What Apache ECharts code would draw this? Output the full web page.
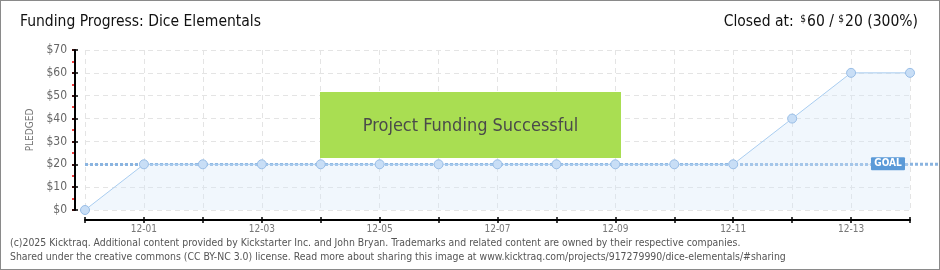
<!DOCTYPE html>
<html><head><meta charset="utf-8">
<script src="https://cdn.jsdelivr.net/npm/echarts@6/dist/echarts.min.js"></script>
<style>
html,body{margin:0;padding:0;background:#fff;}
#wrap{position:absolute;left:0;top:0;width:938px;height:268px;border:1px solid #8a8a8a;}
#c{position:absolute;left:0;top:0;width:940px;height:270px;}
</style></head>
<body><div id="wrap"></div><div id="c"></div>
<script>
const categories = ['11-30','12-01','12-02','12-03','12-04','12-05','12-06','12-07','12-08','12-09','12-10','12-11','12-12','12-13','12-14'];
const pledged = [0,20,20,20,20,20,20,20,20,20,20,20,40,60,60];
const goal = 20;
const yTicks = {min:0, max:70, interval:10};
const titleText = 'Funding Progress: Dice Elementals';
const footer1 = '(c)2025 Kicktraq. Additional content provided by Kickstarter Inc. and John Bryan. Trademarks and related content are owned by their respective companies.';
const footer2 = 'Shared under the creative commons (CC BY-NC 3.0) license. Read more about sharing this image at www.kicktraq.com/projects/917279990/dice-elementals/#sharing';

const FONT = "'Liberation Sans Narrow','DejaVu Sans Condensed',sans-serif";
const chart = echarts.init(document.getElementById('c'), null, {renderer:'canvas'});
const extraY = (interval, color, inside, z) => ({
  type:'value', min:yTicks.min, max:yTicks.max, interval:interval, offset:10, position:'left', z:z,
  axisLine:{show:false}, axisLabel:{show:false}, splitLine:{show:false},
  axisTick:{show:true, inside:inside, length:3, lineStyle:{color:color, width:1.5}}
});
const option = {
  animation:false,
  grid:{left:85, right:30, top:50, bottom:60, containLabel:false},
  xAxis:[{
    type:'category', data:categories, boundaryGap:false, offset:10, position:'bottom',
    axisLine:{onZero:false, lineStyle:{color:'#000', width:2}},
    axisTick:{show:true, interval:0, length:3, inside:false, lineStyle:{color:'#000', width:1.5}},
    axisLabel:{interval:(i)=> i%2===1, color:'#777', fontFamily:FONT, fontSize:10, margin:4},
    splitLine:{show:true, interval:0, lineStyle:{color:'#e4e4e4', type:[5,4]}}
  },{
    type:'category', data:categories, boundaryGap:false, offset:10, position:'bottom',
    axisLine:{show:false, onZero:false}, axisLabel:{show:false}, splitLine:{show:false},
    axisTick:{show:true, interval:0, length:3, inside:true, lineStyle:{color:'#000', width:1.5}}
  }],
  yAxis:[{
    type:'value', min:yTicks.min, max:yTicks.max, interval:yTicks.interval, offset:10, position:'left', z:3,
    name:'PLEDGED', nameLocation:'middle', nameGap:33, nameRotate:90,
    nameTextStyle:{color:'#777', fontFamily:FONT, fontSize:10},
    axisLine:{show:true, lineStyle:{color:'#000', width:2}},
    axisTick:{show:true, length:3, lineStyle:{color:'#000', width:1.5}},
    axisLabel:{color:'#666', fontFamily:FONT, fontSize:12, margin:8, formatter:v=>'$'+v},
    splitLine:{show:true, lineStyle:{color:'#e4e4e4', type:[5,4]}}
  }, extraY(5,'#e00',false,1), extraY(10,'#000',true,3)],
  series:[{
    type:'line', data:pledged, symbol:'circle', symbolSize:9, z:5,
    lineStyle:{color:'#a9cdf0', width:1},
    itemStyle:{color:'#c8def6', borderColor:'#98bde6', borderWidth:1},
    areaStyle:{color:'rgba(214,232,250,0.5)'},
    markLine:{silent:true, symbol:'none', z:3,
      lineStyle:{color:'#8ab4e0', width:3, type:[3,2]},
      label:{show:false},
      data:[{yAxis:goal}]}
  }]
};
chart.setOption(option);

const p0 = chart.convertToPixel({gridIndex:0}, [14, goal]);
chart.setOption({graphic:[
  {id:'title', type:'text', left:20, top:14, style:{text:titleText, font:"15.5px "+FONT, fill:'#111'}},
  {id:'closed', type:'text', right:22, top:14, style:{
    text:'{a|Closed at:}  {s|$}{a|60 / }{s|$}{a|20 (300%)}',
    rich:{a:{font:"15.5px "+FONT, fill:'#111'}, s:{font:"10px "+FONT, fill:'#111', verticalAlign:'top', padding:[0,1,6,0]}}
  }},
  {id:'f1', type:'text', left:10, top:238, style:{text:footer1, font:"10.4px "+FONT, fill:'#555'}},
  {id:'f2', type:'text', left:10, top:252, style:{text:footer2, font:"10.4px "+FONT, fill:'#555'}},
  {id:'bannerRect', type:'rect', z:20, shape:{x:320,y:92,width:301,height:66}, style:{fill:'#a9de52'}},
  {id:'bannerText', type:'text', z:21, x:470.5, y:126, style:{text:'Project Funding Successful', font:"18px "+FONT, fill:'#4a4a4a', align:'center', verticalAlign:'middle', textShadowColor:'#f4ffe8', textShadowOffsetX:1, textShadowOffsetY:1}},
  {id:'goalext', type:'line', z:4, shape:{x1:p0[0], y1:p0[1], x2:938, y2:p0[1]}, style:{stroke:'#8ab4e0', lineWidth:3, lineDash:[3,2]}},
  {id:'goalRect', type:'rect', z:20, shape:{x:p0[0]-39, y:p0[1]-7, width:34, height:13, r:1}, style:{fill:'#5b9ad8'}},
  {id:'goalText', type:'text', z:21, x:p0[0]-22, y:p0[1]-0.5, style:{text:'GOAL', font:"bold 10px "+FONT, fill:'#fff', align:'center', verticalAlign:'middle'}}
]});
</script></body></html>
